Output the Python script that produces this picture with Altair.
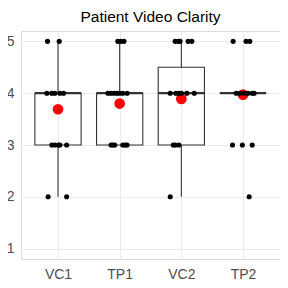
import altair as alt
import pandas as pd

categories = ["VC1", "TP1", "VC2", "TP2"]

# jittered raw points: category, rating, horizontal jitter (in category units)
pt_cat = (["VC1"] * 14 + ["TP1"] * 16 + ["VC2"] * 15 + ["TP2"] * 13)
pt_val = ([5, 5, 4, 4, 4, 4, 4, 3, 3, 3, 3, 3, 2, 2]
          + [5, 5, 5, 4, 4, 4, 4, 4, 4, 4, 3, 3, 3, 3, 3, 3]
          + [5, 5, 5, 5, 5, 4, 4, 4, 4, 4, 4, 3, 3, 3, 2]
          + [5, 5, 5, 4, 4, 4, 4, 4, 4, 3, 3, 3, 2])
pt_jit = ([-0.17, 0.02, -0.18, -0.10, -0.05, 0.03, 0.09, -0.10, -0.05, 0.005, 0.03, 0.14, -0.16, 0.14]
          + [-0.03, 0.02, 0.07, -0.19, -0.14, -0.09, -0.04, 0.0, 0.05, 0.12, -0.14, -0.11, -0.08, 0.05, 0.09, 0.12]
          + [-0.10, -0.05, -0.02, 0.11, 0.17, -0.18, -0.09, -0.04, 0.0, 0.09, 0.21, -0.13, -0.10, -0.04, -0.18]
          + [-0.16, 0.05, 0.11, -0.11, -0.05, 0.02, 0.08, 0.15, 0.18, -0.17, -0.01, 0.15, 0.10])

# boxplot statistics
lower = [2, 3, 2, 4]
q1 = [3, 3, 3, 4]
median = [4, 4, 4, 4]
q3 = [4, 4, 4.5, 4]
upper = [5, 5, 5, 4]
means = [3.69, 3.80, 3.89, 3.97]

idx = {c: i + 1 for i, c in enumerate(categories)}
pts = pd.DataFrame({"cat": pt_cat, "val": pt_val, "jit": pt_jit})
pts["x"] = pts["cat"].map(idx) + pts["jit"]

box = pd.DataFrame({"cat": categories, "lower": lower, "q1": q1, "median": median,
                    "q3": q3, "upper": upper, "mean": means})
box["x"] = box["cat"].map(idx)
box["xl"] = box["x"] - 0.375
box["xr"] = box["x"] + 0.375

label_expr = "[" + ",".join("'%s'" % c for c in categories) + "][datum.value - 1]"

xscale = alt.Scale(domain=[0.4, 4.6], nice=False, zero=False)
yscale = alt.Scale(domain=[0.8, 5.2], nice=False, zero=False)

xax = alt.Axis(values=[1, 2, 3, 4], labelExpr=label_expr, title=None, grid=True,
               domain=False, ticks=False, labelPadding=8, labelFontSize=14,
               labelColor="#4D4D4D", labelFont="Liberation Sans", gridColor="#EBEBEB")
yax = alt.Axis(values=[1, 1.5, 2, 2.5, 3, 3.5, 4, 4.5, 5],
               labelExpr="datum.value % 1 == 0 ? datum.label : ''", title=None,
               grid=True, domain=False, ticks=False, labelPadding=7, labelFontSize=14,
               labelColor="#4D4D4D", labelFont="Liberation Sans", gridColor="#EBEBEB")

base_box = alt.Chart(box)

mean_layer = base_box.mark_circle(color="red", size=115, opacity=1).encode(
    x=alt.X("x:Q", scale=xscale, axis=xax),
    y=alt.Y("mean:Q", scale=yscale, axis=yax),
)
whisk_lo = base_box.mark_rule(color="#333333", strokeWidth=1.1).encode(
    x="x:Q", y="lower:Q", y2="q1:Q")
whisk_hi = base_box.mark_rule(color="#333333", strokeWidth=1.1).encode(
    x="x:Q", y="q3:Q", y2="upper:Q")
rect = base_box.mark_rect(fillOpacity=0, stroke="#333333", strokeWidth=1.1).encode(
    x="xl:Q", x2="xr:Q", y="q1:Q", y2="q3:Q")
med = base_box.mark_rule(color="#333333", strokeWidth=2.2).encode(
    x="xl:Q", x2="xr:Q", y="median:Q")
points = alt.Chart(pts).mark_circle(color="black", size=26, opacity=1).encode(
    x="x:Q", y="val:Q")

chart = alt.layer(mean_layer, whisk_lo, whisk_hi, rect, med, points).properties(
    width=259, height=228,
    title=alt.Title("Patient Video Clarity", fontSize=15.5, fontWeight="normal",
                    font="Liberation Sans", color="black", anchor="middle", offset=6),
    autosize=alt.AutoSizeParams(type="none"),
    padding={"left": 13, "top": 23, "right": 0, "bottom": 22},
).configure_view(stroke=None).configure(background="white")

chart.save("out.html", embed_options={"renderer": "svg", "actions": False})
